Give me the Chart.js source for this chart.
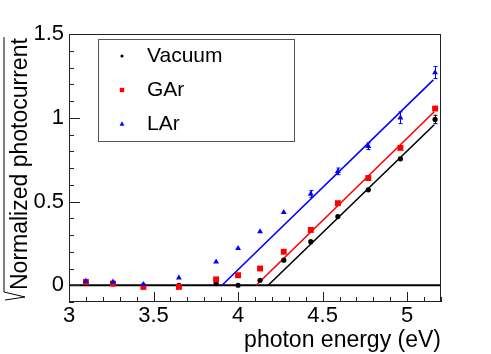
<!DOCTYPE html>
<html lang="en">
<head>
<meta charset="UTF-8">
<title>Photocurrent vs photon energy</title>
<script src="https://cdn.jsdelivr.net/npm/chart.js"></script>
<style>
  body { margin: 0; background: #fff; }
  #wrap { width: 491px; height: 354px; }
</style>
</head>
<body>
<div id="wrap"><canvas id="myChart" width="491" height="354"></canvas></div>
<script>
// photon energy (eV) of each measurement
var energy = [3.10, 3.26, 3.44, 3.65, 3.87, 4.00, 4.13, 4.27, 4.43, 4.59, 4.77, 4.96, 5.165];

// sqrt of normalized photocurrent
var vacuum = [0.015, 0.01, 0.00, 0.00, 0.01, 0.00, 0.03, 0.15, 0.26, 0.41, 0.57, 0.755, 0.99];
var gar    = [0.02, 0.01, -0.01, -0.01, 0.035, 0.06, 0.10, 0.20, 0.33, 0.49, 0.64, 0.82, 1.055];
var lar    = [0.025, 0.02, 0.005, 0.045, 0.14, 0.22, 0.32, 0.435, 0.545, 0.68, 0.83, 1.00, 1.27];

// vertical error bars (only the ones that show outside the markers)
var vacuumErr = [0, 0, 0, 0, 0, 0, 0, 0, 0, 0, 0, 0, 0.025];
var garErr    = [0, 0, 0, 0, 0, 0, 0, 0, 0, 0, 0, 0, 0];
var larErr    = [0, 0, 0, 0, 0, 0, 0, 0, 0.02, 0.02, 0.02, 0.035, 0.036];

// linear fits: [start energy, start value, end energy, end value]
var vacuumFit = [4.178, 0, 5.16, 0.958];
var garFit    = [4.107, 0, 5.16, 1.036];
var larFit    = [3.905, 0, 5.155, 1.226];

var seriesNames = ['Vacuum', 'GAr', 'LAr'];
var xTicks = [3, 3.5, 4, 4.5, 5];
var yTicks = [0, 0.5, 1, 1.5];

var FONT = 'Liberation Sans, Arial, Helvetica, sans-serif';

function toPoints(xs, ys) {
    return xs.map(function (x, i) { return { x: x, y: ys[i] }; });
}
function fitPoints(f) {
    return [{ x: f[0], y: f[1] }, { x: f[2], y: f[3] }];
}

var styles = [
    { color: '#000000', shape: 'circle', r: 2.6 },
    { color: '#ff0000', shape: 'rect', r: 4.2 },
    { color: '#0000ff', shape: 'triangle', r: 3.4 }
];

function drawMarker(ctx, shape, x, y, r, color) {
    ctx.fillStyle = color;
    ctx.beginPath();
    if (shape === 'circle') {
        ctx.arc(x, y, r, 0, Math.PI * 2);
    } else if (shape === 'rect') {
        ctx.rect(x - r, y - r, 2 * r, 2 * r);
    } else {
        ctx.moveTo(x, y - r * 1.1);
        ctx.lineTo(x + r, y + r * 0.75);
        ctx.lineTo(x - r, y + r * 0.75);
        ctx.closePath();
    }
    ctx.fill();
}

// ROOT-like frame, inward ticks, error bars, legend and sqrt title
var rootStyle = {
    id: 'rootStyle',
    afterDatasetsDraw: function (chart) {
        var ctx = chart.ctx, xs = chart.scales.x, ys = chart.scales.y;
        var errs = [vacuumErr, garErr, larErr];
        var vals = [vacuum, gar, lar];
        ctx.save();
        ctx.lineWidth = 1;
        for (var s = 0; s < 3; s++) {
            ctx.strokeStyle = styles[s].color;
            for (var i = 0; i < energy.length; i++) {
                if (!errs[s][i]) continue;
                var px = Math.round(xs.getPixelForValue(energy[i])) + 0.5;
                var y1 = ys.getPixelForValue(vals[s][i] + errs[s][i]);
                var y2 = ys.getPixelForValue(vals[s][i] - errs[s][i]);
                ctx.beginPath();
                ctx.moveTo(px, y1); ctx.lineTo(px, y2);
                ctx.moveTo(px - 2, y1); ctx.lineTo(px + 2, y1);
                ctx.moveTo(px - 2, y2); ctx.lineTo(px + 2, y2);
                ctx.stroke();
            }
        }
        ctx.restore();
    },
    afterDraw: function (chart) {
        var ctx = chart.ctx, ca = chart.chartArea;
        var xs = chart.scales.x, ys = chart.scales.y;
        ctx.save();
        // frame
        ctx.strokeStyle = '#222';
        ctx.lineWidth = 1;
        ctx.strokeRect(ca.left + 0.5, ca.top + 0.5, ca.right - ca.left - 1, ca.bottom - ca.top - 1);

        // x ticks, every 0.1, pointing up
        ctx.beginPath();
        for (var i = 30; i <= 52; i++) {
            var px = Math.round(xs.getPixelForValue(i / 10)) + 0.5;
            var len = (i % 5 === 0) ? 10 : 5;
            ctx.moveTo(px, ca.bottom);
            ctx.lineTo(px, ca.bottom - len);
        }
        // y ticks, every 0.1, pointing right
        for (var j = -1; j <= 15; j++) {
            var py = Math.round(ys.getPixelForValue(j / 10)) + 0.5;
            var ylen = (j % 5 === 0) ? 11 : 5;
            ctx.moveTo(ca.left, py);
            ctx.lineTo(ca.left + ylen, py);
        }
        ctx.stroke();

        // legend box
        var lx = ca.left + 29, ly = ca.top + 5;
        ctx.fillStyle = '#fff';
        ctx.fillRect(lx, ly, 196, 102);
        ctx.strokeStyle = '#555';
        ctx.strokeRect(lx + 0.5, ly + 0.5, 196, 102);
        ctx.font = '21px ' + FONT;
        ctx.textBaseline = 'middle';
        ctx.textAlign = 'left';
        var legendSizes = [1.6, 2.2, 2.4];
        for (var k = 0; k < 3; k++) {
            var rowY = ly + 17 + k * 34;
            drawMarker(ctx, styles[k].shape, lx + 24, rowY, legendSizes[k], styles[k].color);
            ctx.fillStyle = '#000';
            ctx.fillText(seriesNames[k], lx + 49, rowY);
        }

        // y axis title with square-root sign
        var title = 'Normalized photocurrent';
        ctx.translate(27, ca.bottom - 12);
        ctx.rotate(-Math.PI / 2);
        ctx.font = '23px ' + FONT;
        ctx.textBaseline = 'alphabetic';
        ctx.fillStyle = '#000';
        ctx.fillText(title, 0, 0);
        var w = ctx.measureText(title).width;
        ctx.strokeStyle = '#000';
        ctx.lineWidth = 1;
        ctx.beginPath();
        ctx.moveTo(-10, -22);
        ctx.lineTo(-7, -2);
        ctx.lineTo(-2, -23);
        ctx.lineTo(w + 1, -23);
        ctx.stroke();
        ctx.restore();
    }
};

var datasets = [
    {
        label: seriesNames[2], data: toPoints(energy, lar), order: 0,
        pointStyle: 'triangle', pointRadius: styles[2].r,
        backgroundColor: styles[2].color, borderColor: styles[2].color, borderWidth: 0
    },
    {
        label: seriesNames[1], data: toPoints(energy, gar), order: 1,
        pointStyle: 'rect', pointRadius: styles[1].r,
        backgroundColor: styles[1].color, borderColor: styles[1].color, borderWidth: 0
    },
    {
        label: seriesNames[0], data: toPoints(energy, vacuum), order: 2,
        pointStyle: 'circle', pointRadius: styles[0].r,
        backgroundColor: styles[0].color, borderColor: styles[0].color, borderWidth: 0
    },
    { label: 'fit LAr', data: fitPoints(larFit), showLine: true, pointRadius: 0, borderColor: '#0000ff', borderWidth: 1.6, order: 3 },
    { label: 'fit GAr', data: fitPoints(garFit), showLine: true, pointRadius: 0, borderColor: '#ff0000', borderWidth: 1.6, order: 4 },
    { label: 'fit Vacuum', data: fitPoints(vacuumFit), showLine: true, pointRadius: 0, borderColor: '#000000', borderWidth: 1.6, order: 5 },
    { label: 'zero', data: [{ x: 3, y: 0 }, { x: 5.2, y: 0 }], showLine: true, pointRadius: 0, borderColor: '#000000', borderWidth: 1.8, order: 6 }
];

var ctx = document.getElementById('myChart').getContext('2d');
var myChart = new Chart(ctx, {
    type: 'scatter',
    data: { datasets: datasets },
    options: {
        responsive: false,
        animation: false,
        devicePixelRatio: 1,
        layout: { padding: { top: 34, right: 50, left: 0, bottom: 0 } },
        plugins: {
            legend: { display: false },
            tooltip: { enabled: false }
        },
        scales: {
            x: {
                type: 'linear', min: 3, max: 5.2,
                grid: { display: false, drawTicks: false },
                border: { display: false },
                afterBuildTicks: function (s) { s.ticks = xTicks.map(function (v) { return { value: v }; }); },
                afterFit: function (s) { s.height = 52; },
                ticks: {
                    autoSkip: false, maxRotation: 0, padding: 1, color: '#000',
                    font: { family: FONT, size: 22 },
                    callback: function (v) { return String(v); }
                },
                title: {
                    display: true, text: 'photon energy (eV)', align: 'end', color: '#000',
                    font: { family: FONT, size: 23 }, padding: { top: 0, bottom: 0 }
                }
            },
            y: {
                type: 'linear', min: -0.1, max: 1.5,
                grid: { display: false, drawTicks: false },
                border: { display: false },
                afterBuildTicks: function (s) { s.ticks = yTicks.map(function (v) { return { value: v }; }); },
                afterFit: function (s) { s.width = 69; },
                ticks: {
                    autoSkip: false, padding: 5, color: '#000',
                    font: { family: FONT, size: 22 },
                    callback: function (v) { return String(v); }
                }
            }
        }
    },
    plugins: [rootStyle]
});
</script>
</body>
</html>
